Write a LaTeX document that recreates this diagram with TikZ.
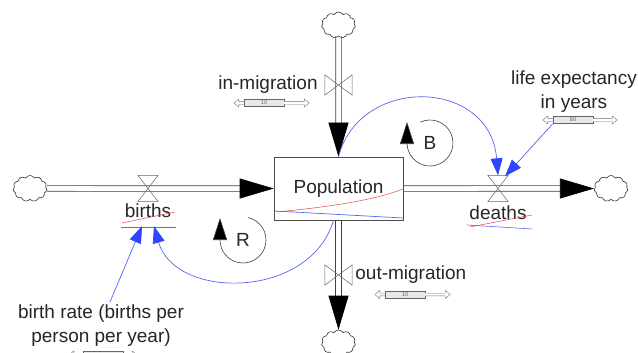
\documentclass[tikz,border=0pt]{standalone}
\usepackage{fontspec}
\setmainfont{Liberation Sans}
\usetikzlibrary{positioning,arrows.meta,shapes.symbols}
\definecolor{LinkBlue}{HTML}{5566F0}
\definecolor{TipBlue}{HTML}{2F45FF}
\definecolor{CurveRed}{HTML}{E8433C}
\newcommand{\lblfont}{\fontsize{19}{24}\selectfont}

\begin{document}
\begin{tikzpicture}[x=1pt, y=-1pt,
    stock/.style={draw=black!70, line width=0.6pt, minimum width=129pt,
                  minimum height=63pt, inner sep=0pt, font=\lblfont, text=black!85},
    cloudn/.style={cloud, cloud puffs=11, cloud puff arc=120, aspect=1.3,
                   draw=black!80, line width=0.6pt, minimum width=34pt,
                   minimum height=26pt, inner sep=0pt},
    vnode/.style={inner sep=0pt, minimum width=20pt, minimum height=26pt},
    hnode/.style={inner sep=0pt, minimum width=27pt, minimum height=20pt},
    valve/.style={draw=black!60, line width=0.5pt},
    lbl/.style={font=\lblfont, text=black!85, inner sep=3pt, align=center},
    slider/.style={draw=black!60, fill=gray!18, line width=0.4pt,
                   minimum width=40pt, minimum height=7pt, inner sep=0pt,
                   font=\fontsize{5.5}{6}\selectfont, text=black!60},
    slarr/.style={draw=black!55, fill=white, line width=0.4pt},
    rail/.style={draw=black!75, line width=0.6pt, shorten >=30pt},
    pipetip/.style={draw=black, line width=0.6pt,
                    -{Triangle[length=34pt, width=20pt, fill=black]}},
    infl/.style={draw=LinkBlue, line width=0.7pt,
                 -{Triangle[length=17pt, width=12pt, color=TipBlue]}},
    loopar/.style={draw=black!75, line width=0.6pt,
                   -{Triangle[length=22pt, width=14pt, fill=black]}},
  ]
    \useasboundingbox (0,0) rectangle (638,353);

    % ── Stock and clouds ─────────────────────────────────────────────────
    \node[stock]  (pop) at (338.5,188.5) {Population};
    \node[cloudn] (cL)  at (30,188.5)    {};
    \node[cloudn] (cR)  at (611,188.5)   {};
    \node[cloudn] (cT)  at (338.5,25)    {};
    \node[cloudn] (cB)  at (338.5,343)   {};

    % ── Valves ───────────────────────────────────────────────────────────
    \node[vnode] (vB) at (148,188.5) {};
    \node[vnode] (vD) at (498,188.5) {};
    \node[hnode] (vI) at (338.5,85)  {};
    \node[hnode] (vO) at (338.5,275) {};

    % ── Flow pipes ───────────────────────────────────────────────────────
    \foreach \a/\b in {cL.east/pop.west, pop.east/cR.west} {
      \draw[rail] ([yshift=2.8pt]\a) -- ([yshift=2.8pt]\b);
      \draw[rail] ([yshift=-2.8pt]\a) -- ([yshift=-2.8pt]\b);
    }
    \foreach \a/\b in {cT.south/pop.north, pop.south/cB.north} {
      \draw[rail] ([xshift=2.8pt]\a) -- ([xshift=2.8pt]\b);
      \draw[rail] ([xshift=-2.8pt]\a) -- ([xshift=-2.8pt]\b);
    }
    \draw[pipetip] ([xshift=-34pt]pop.west) -- (pop.west);
    \draw[pipetip] ([xshift=-34pt]cR.west)  -- (cR.west);
    \draw[pipetip] ([yshift=34pt]pop.north) -- (pop.north);
    \draw[pipetip] ([yshift=34pt]cB.north)  -- (cB.north);

    \foreach \v in {vB, vD}
      \draw[valve] (\v.north west) -- (\v.north east)
                -- (\v.south west) -- (\v.south east) -- cycle;
    \foreach \v in {vI, vO}
      \draw[valve] (\v.north west) -- (\v.south west)
                -- (\v.north east) -- (\v.south east) -- cycle;

    % ── Labels ───────────────────────────────────────────────────────────
    \node[lbl, left=4pt of vI]    (lIn)     {in-migration};
    \node[lbl, right=0pt of vO]   (lOut)    {out-migration};
    \node[lbl, below=-1pt of vB]  (lBirths) {births};
    \node[lbl, below=1pt of vD]   (lDeaths) {deaths};
    \node[lbl] (lLife) at (574,92)  {life expectancy\\in years};
    \node[lbl] (lRate) at (101,326) {birth rate (births per\\person per year)};
    \node[lbl] (lR) at (243,240) {R};
    \node[lbl] (lB) at (430,143) {B};

    % ── Sliders ──────────────────────────────────────────────────────────
    \node[slider] (sIn)   at (264,103)   {10};
    \node[slider] (sOut)  at (405,294.5) {10};
    \node[slider] (sLife) at (573,120)   {80};
    \node[slider] (sRate) at (103,355)   {};
    \foreach \s/\l/\r in {sIn/10/25, sOut/10/25, sLife/10/24, sRate/14/14} {
      \draw[slarr] (\s.west) ++(0,1.3) -- ++({-(\l-5)},0) -- ++(0,2.7)
        -- ++(-5,-4) -- ++(5,-4) -- ++(0,2.7) -- ++({\l-5},0);
      \draw[slarr] (\s.east) ++(0,1.3) -- ++({\r-5},0) -- ++(0,2.7)
        -- ++(5,-4) -- ++(-5,-4) -- ++(0,2.7) -- ++({-(\r-5)},0);
    }

    % ── Graph traces and marks ───────────────────────────────────────────
    \draw[CurveRed, line width=0.5pt]
      (276,212) .. controls (330,207) and (375,200) .. (403,189);
    \draw[LinkBlue, line width=0.7pt] (275,211) -- (403,218);
    \draw[CurveRed, line width=0.5pt] (122,223) -- (175,212);
    \draw[LinkBlue, line width=0.6pt] (121,227) -- (176,227);
    \draw[CurveRed, line width=0.5pt] (470,227) -- (532,215);
    \draw[LinkBlue, line width=0.6pt] (467,225) -- (532,229);

    % ── Loop markers ─────────────────────────────────────────────────────
    \draw[loopar] (lR.center) ++(-77:23)
      arc[start angle=-77, end angle=180, radius=23] -- ++(0,-22);
    \draw[loopar] (lB.center) ++(-115:23)
      arc[start angle=-115, end angle=180, radius=23] -- ++(0,-21);

    % ── Information links ────────────────────────────────────────────────
    \draw[infl] (pop.north) .. controls (360,75) and (490,78) .. (vD.north);
    \draw[infl] (sLife.south west) -- ([xshift=7pt,yshift=-1pt]vD.north);
    \draw[infl] ([xshift=9pt]lRate.north) -- ([xshift=-6pt,yshift=-5pt]lBirths.south);
    \draw[infl] ([xshift=-5pt]pop.south)
      .. controls (310,300) and (175,300) .. ([xshift=6pt,yshift=-5pt]lBirths.south);
  \end{tikzpicture}
\end{document}
